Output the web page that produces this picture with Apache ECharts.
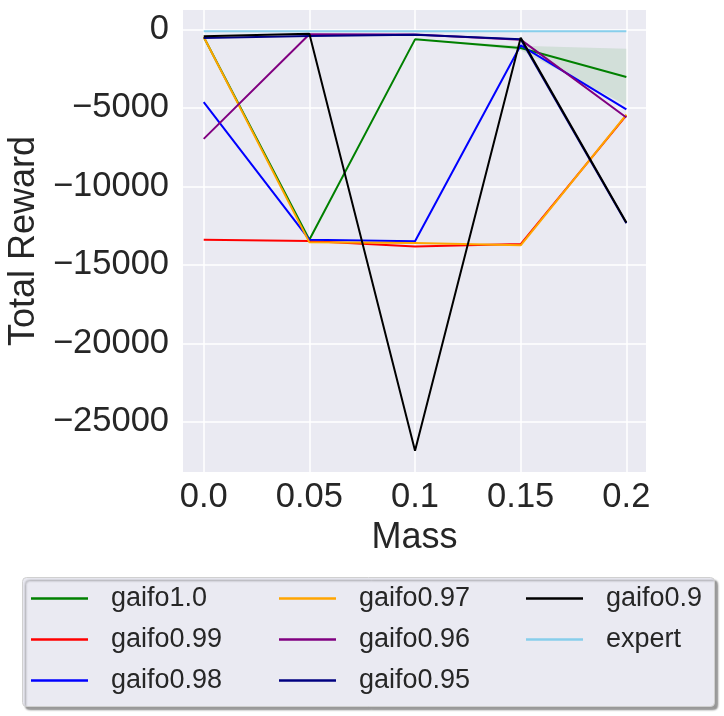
<!DOCTYPE html>
<html lang="en">
<head>
  <meta charset="UTF-8">
  <title>Total Reward vs Mass</title>
  <script src="https://cdn.jsdelivr.net/npm/echarts@6/dist/echarts.min.js"></script>
  <style>
    html, body { margin: 0; padding: 0; background: #fff; }
    #main { width: 724px; height: 716px; }
  </style>
</head>
<body>
<div id="main"></div>
<script>
  // data
  var mass = [0, 0.05, 0.1, 0.15, 0.2];
  var massLabels = ['0.0', '0.05', '0.1', '0.15', '0.2'];
  var yTicks = [-25000, -20000, -15000, -10000, -5000, 0];

  var gaifo1_0 = [-490, -13400, -640, -1190, -3040];
  var gaifo1_0Std = [0, 0, 0, 150, 1800];
  var gaifo0_99 = [-13400, -13490, -13840, -13680, -5480];
  var gaifo0_98 = [-4640, -13400, -13500, -1020, -5100];
  var gaifo0_97 = [-490, -13570, -13610, -13760, -5430];
  var gaifo0_96 = [-6980, -320, -330, -660, -5620];
  var gaifo0_95 = [-560, -430, -340, -640, -12350];
  var gaifo0_9 = [-450, -280, -26850, -530, -12300];
  var expert = [-130, -130, -130, -130, -130];

  var names = ['gaifo1.0', 'gaifo0.99', 'gaifo0.98', 'gaifo0.97', 'gaifo0.96', 'gaifo0.95', 'gaifo0.9', 'expert'];
  var colors = ['#008000', '#ff0000', '#0000ff', '#ffa500', '#800080', '#000080', '#000000', '#87ceeb'];
  var values = [gaifo1_0, gaifo0_99, gaifo0_98, gaifo0_97, gaifo0_96, gaifo0_95, gaifo0_9, expert];

  function pairs(arr) {
    return arr.map(function (v, i) { return [mass[i], v]; });
  }

  var textColor = '#262626';
  var font = 'Liberation Sans, Arial, sans-serif';

  var series = [];
  // std band around gaifo1.0, drawn as one polygon through the axes
  series.push({
    type: 'custom', silent: true, z: 1,
    encode: { x: 0, y: 1 },
    data: pairs(gaifo1_0),
    renderItem: function (params, api) {
      if (params.dataIndex !== 0) return;
      var upper = [], lower = [];
      for (var i = 0; i < mass.length; i++) {
        upper.push(api.coord([mass[i], gaifo1_0[i] + gaifo1_0Std[i]]));
        lower.unshift(api.coord([mass[i], gaifo1_0[i] - gaifo1_0Std[i]]));
      }
      return {
        type: 'polygon',
        shape: { points: upper.concat(lower) },
        style: { fill: 'rgba(0,128,0,0.1)' }
      };
    }
  });
  names.forEach(function (n, i) {
    series.push({
      name: n, type: 'line', symbol: 'none', z: 2 + i,
      lineStyle: { color: colors[i], width: 2 },
      itemStyle: { color: colors[i] },
      data: pairs(values[i])
    });
  });

  function legendCol(left, data) {
    return {
      orient: 'vertical', left: left, top: 585, padding: 0,
      itemWidth: 57, itemHeight: 2.5, itemGap: 14,
      icon: 'rect',
      data: data,
      textStyle: { fontSize: 27, color: textColor, fontFamily: font, lineHeight: 26, padding: [0, 0, 0, 18] }
    };
  }

  var myChart = echarts.init(document.getElementById('main'));
  var option = {
    animation: false,
    backgroundColor: '#ffffff',
    grid: {
      left: 183, right: 78, top: 10, bottom: 244, outerBoundsMode: 'none',
      backgroundColor: '#eaeaf2', show: true, borderWidth: 0
    },
    xAxis: {
      type: 'value', min: -0.0098, max: 0.2093,
      name: 'Mass', nameLocation: 'middle', nameGap: 45,
      nameTextStyle: { fontSize: 36, color: textColor, fontFamily: font },
      axisLine: { show: false }, axisTick: { show: false, customValues: mass },
      axisLabel: {
        customValues: mass, fontSize: 34.5, color: textColor, fontFamily: font, margin: 8,
        formatter: function (v) { return massLabels[mass.indexOf(v)]; }
      },
      splitLine: { show: true, lineStyle: { color: '#ffffff', width: 1.5 } }
    },
    yAxis: {
      type: 'value', min: -28200, max: 1230,
      name: 'Total Reward', nameLocation: 'middle', nameGap: 138, nameRotate: 90,
      nameTextStyle: { fontSize: 36, color: textColor, fontFamily: font },
      axisLine: { show: false }, axisTick: { show: false, customValues: yTicks },
      axisLabel: {
        customValues: yTicks, fontSize: 34.5, color: textColor, fontFamily: font, margin: 14,
        formatter: function (v) { return v < 0 ? '\u2212' + Math.abs(v) : String(v); }
      },
      splitLine: { show: true, lineStyle: { color: '#ffffff', width: 1.5 } }
    },
    legend: [
      legendCol(31, ['gaifo1.0', 'gaifo0.99', 'gaifo0.98']),
      legendCol(279, ['gaifo0.97', 'gaifo0.96', 'gaifo0.95']),
      legendCol(526, ['gaifo0.9', 'expert'])
    ],
    graphic: [{
      type: 'rect', left: 22, top: 577, z: -1,
      shape: { width: 692, height: 129, r: 4 },
      style: {
        fill: '#eaeaf2', stroke: '#d0d0d0', lineWidth: 1,
        shadowColor: 'rgba(0,0,0,0.4)', shadowOffsetX: 3, shadowOffsetY: 3, shadowBlur: 2
      }
    }],
    series: series
  };
  myChart.setOption(option);
</script>
</body>
</html>
